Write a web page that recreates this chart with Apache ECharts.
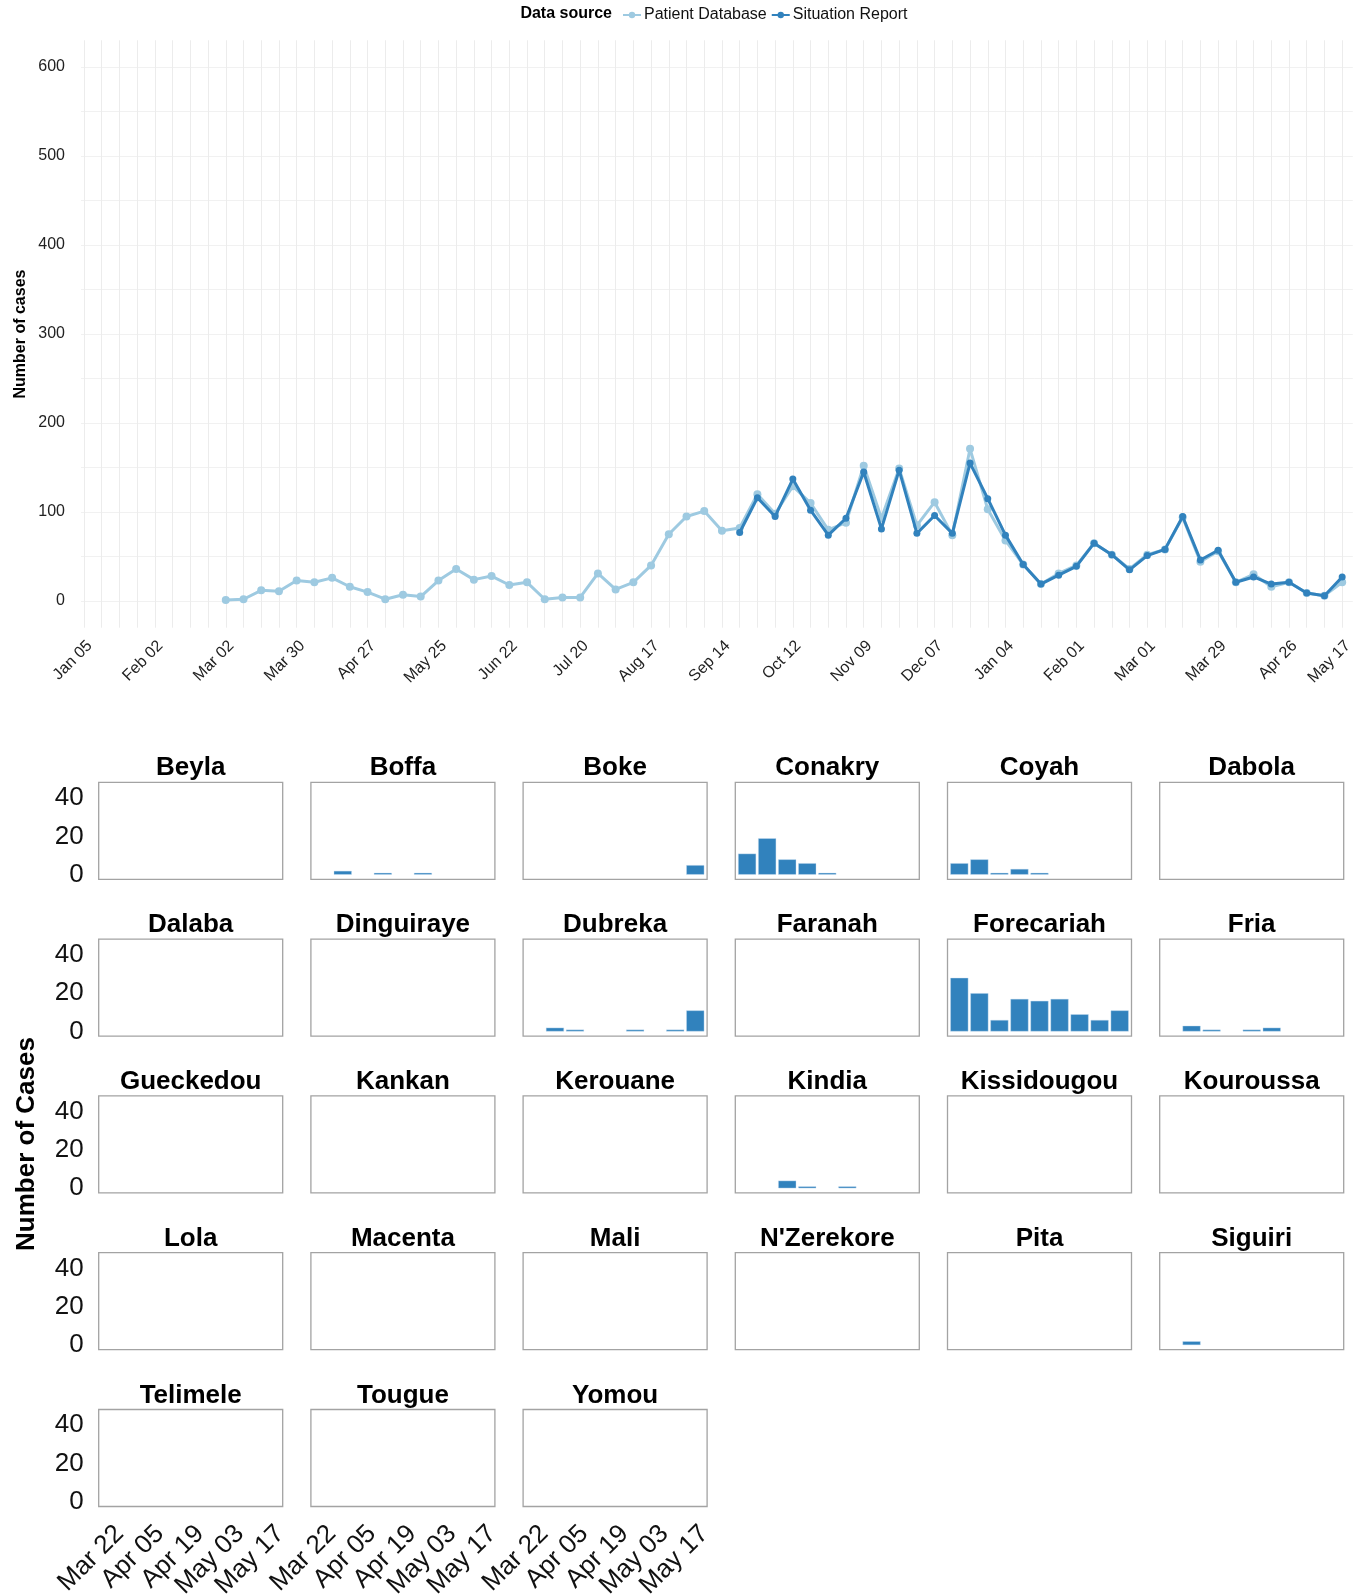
<!DOCTYPE html>
<html>
<head>
<meta charset="utf-8">
<script src="https://cdn.jsdelivr.net/npm/echarts@6/dist/echarts.min.js"></script>
<style>
  html, body { margin: 0; padding: 0; background: #ffffff; }
  #chart { width: 1362px; height: 1595px; }
</style>
</head>
<body>
<div id="chart"></div>
<script>
// ---- Weekly national case counts (weeks counted from 2014-01-05) ----
const topTickWeeks  = [0, 4, 8, 12, 16, 20, 24, 28, 32, 36, 40, 44, 48, 52, 56, 60, 64, 68, 71];
const topTickLabels = ['Jan 05', 'Feb 02', 'Mar 02', 'Mar 30', 'Apr 27', 'May 25', 'Jun 22', 'Jul 20',
                       'Aug 17', 'Sep 14', 'Oct 12', 'Nov 09', 'Dec 07', 'Jan 04', 'Feb 01', 'Mar 01',
                       'Mar 29', 'Apr 26', 'May 17'];
const lastWeek = 71;

const patientStartWeek = 8;   // Mar 02 2014
const patientDatabase = [
  1, 2, 12, 11, 23, 21, 26, 16, 10, 2, 7, 5, 23, 36, 24, 28, 18, 21, 2, 4, 4, 31, 13, 21,
  40, 75, 95, 101, 79, 82, 120, 98, 129, 110, 80, 88, 152, 93, 149, 85, 111, 74, 171, 103,
  68, 41, 19, 31, 40, 65, 52, 36, 52, 58, 94, 44, 56, 21, 30, 16, 21, 9, 6, 21
];

const sitrepStartWeek = 37;   // Sep 21 2014
const situationReport = [
  77, 116, 95, 137, 102, 74, 93, 145, 81, 147, 76, 96, 76, 155, 115, 74, 41, 19, 29, 39,
  65, 52, 35, 51, 58, 95, 46, 57, 21, 27, 19, 21, 9, 6, 27
];

const topYTicks  = [0, 50, 100, 150, 200, 250, 300, 350, 400, 450, 500, 550, 600];
const topYLabels = [0, 100, 200, 300, 400, 500, 600];

// ---- Weekly cases by prefecture, Mar 22 – May 17 2015 ----
const facetWeeks = ['Mar 22', 'Mar 29', 'Apr 05', 'Apr 12', 'Apr 19', 'Apr 26', 'May 03', 'May 10', 'May 17'];
const facetYLabels = [0, 20, 40];

const districts = ['Beyla', 'Boffa', 'Boke', 'Conakry', 'Coyah', 'Dabola',
                   'Dalaba', 'Dinguiraye', 'Dubreka', 'Faranah', 'Forecariah', 'Fria',
                   'Gueckedou', 'Kankan', 'Kerouane', 'Kindia', 'Kissidougou', 'Kouroussa',
                   'Lola', 'Macenta', 'Mali', "N'Zerekore", 'Pita', 'Siguiri',
                   'Telimele', 'Tougue', 'Yomou'];

const beyla       = [0, 0, 0, 0, 0, 0, 0, 0, 0];
const boffa       = [0, 2, 0, 1, 0, 1, 0, 0, 0];
const boke        = [0, 0, 0, 0, 0, 0, 0, 0, 5];
const conakry     = [11, 19, 8, 6, 1, 0, 0, 0, 0];
const coyah       = [6, 8, 1, 3, 1, 0, 0, 0, 0];
const dabola      = [0, 0, 0, 0, 0, 0, 0, 0, 0];
const dalaba      = [0, 0, 0, 0, 0, 0, 0, 0, 0];
const dinguiraye  = [0, 0, 0, 0, 0, 0, 0, 0, 0];
const dubreka     = [0, 2, 1, 0, 0, 1, 0, 1, 11];
const faranah     = [0, 0, 0, 0, 0, 0, 0, 0, 0];
const forecariah  = [28, 20, 6, 17, 16, 17, 9, 6, 11];
const fria        = [0, 3, 1, 0, 1, 2, 0, 0, 0];
const gueckedou   = [0, 0, 0, 0, 0, 0, 0, 0, 0];
const kankan      = [0, 0, 0, 0, 0, 0, 0, 0, 0];
const kerouane    = [0, 0, 0, 0, 0, 0, 0, 0, 0];
const kindia      = [0, 0, 4, 1, 0, 1, 0, 0, 0];
const kissidougou = [0, 0, 0, 0, 0, 0, 0, 0, 0];
const kouroussa   = [0, 0, 0, 0, 0, 0, 0, 0, 0];
const lola        = [0, 0, 0, 0, 0, 0, 0, 0, 0];
const macenta     = [0, 0, 0, 0, 0, 0, 0, 0, 0];
const mali        = [0, 0, 0, 0, 0, 0, 0, 0, 0];
const nzerekore   = [0, 0, 0, 0, 0, 0, 0, 0, 0];
const pita        = [0, 0, 0, 0, 0, 0, 0, 0, 0];
const siguiri     = [0, 2, 0, 0, 0, 0, 0, 0, 0];
const telimele    = [0, 0, 0, 0, 0, 0, 0, 0, 0];
const tougue      = [0, 0, 0, 0, 0, 0, 0, 0, 0];
const yomou       = [0, 0, 0, 0, 0, 0, 0, 0, 0];

const districtCases = [beyla, boffa, boke, conakry, coyah, dabola, dalaba, dinguiraye, dubreka,
  faranah, forecariah, fria, gueckedou, kankan, kerouane, kindia, kissidougou, kouroussa,
  lola, macenta, mali, nzerekore, pita, siguiri, telimele, tougue, yomou];

// ---- Layout & style ----
const FONT = "'Liberation Sans', Arial, Helvetica, sans-serif";
const LIGHT = '#9ecae1';
const DARK = '#3182bd';

const mainPanel = { left: 81, width: 1271.8, top: 40.3, height: 587.4 };

const COL_LEFT0 = 98.7, COL_PITCH = 212.2, PANEL_W = 184;
const ROW_TOP0 = 782.3, ROW_PITCH = 156.8, PANEL_H = 97;
const INSET = 1.8;

const grids = [{
  left: mainPanel.left, top: mainPanel.top, width: mainPanel.width, height: mainPanel.height,
  outerBoundsMode: 'none'
}];
const xAxes = [{
  gridIndex: 0, type: 'value', min: -0.17, max: 71.6,
  axisLine: { show: false },
  axisTick: { show: false, customValues: Array.from({ length: lastWeek + 1 }, (_, i) => i) },
  splitLine: { show: true, lineStyle: { color: '#ececec', width: 1 } },
  axisLabel: {
    customValues: topTickWeeks,
    formatter: v => topTickLabels[topTickWeeks.indexOf(v)] || '',
    rotate: 45, align: 'right', verticalAlign: 'top', margin: 10,
    fontSize: 16, color: '#222', fontFamily: FONT
  }
}];
const yAxes = [{
  gridIndex: 0, type: 'value', min: -30, max: 630,
  axisLine: { show: false },
  axisTick: { show: false, customValues: topYTicks },
  splitLine: { show: true, lineStyle: { color: '#f1f1f1', width: 1 } },
  axisLabel: { customValues: topYLabels, fontSize: 16, color: '#222', fontFamily: FONT, margin: 16,
               padding: [3, 0, 0, 0] }
}];

const series = [
  {
    name: 'Patient Database', type: 'line', xAxisIndex: 0, yAxisIndex: 0,
    data: patientDatabase.map((v, i) => [patientStartWeek + i, v]),
    symbol: 'circle', symbolSize: 8, z: 2,
    lineStyle: { color: LIGHT, width: 3 }, itemStyle: { color: LIGHT }
  },
  {
    name: 'Situation Report', type: 'line', xAxisIndex: 0, yAxisIndex: 0,
    data: situationReport.map((v, i) => [sitrepStartWeek + i, v]),
    symbol: 'circle', symbolSize: 7, z: 3,
    lineStyle: { color: DARK, width: 3 }, itemStyle: { color: DARK }
  }
];

const graphics = [
  { type: 'text', x: 612, y: 14, z: 10,
    style: { text: 'Data source', font: 'bold 16px ' + FONT, fill: '#000', align: 'right', verticalAlign: 'middle' } },
  { type: 'text', x: 21, y: 334, rotation: Math.PI / 2, z: 10,
    style: { text: 'Number of cases', font: 'bold 16px ' + FONT, fill: '#000', align: 'center', verticalAlign: 'middle' } },
  { type: 'text', x: 27, y: 1144, rotation: Math.PI / 2, z: 10,
    style: { text: 'Number of Cases', font: 'bold 26px ' + FONT, fill: '#000', align: 'center', verticalAlign: 'middle' } }
];

districts.forEach((name, k) => {
  const r = Math.floor(k / 6), c = k % 6;
  const left = COL_LEFT0 + c * COL_PITCH;
  const y0 = ROW_TOP0 + r * ROW_PITCH;
  const gi = k + 1;
  grids.push({
    left: left + INSET, top: y0, width: PANEL_W - 2 * INSET, height: PANEL_H,
    outerBoundsMode: 'none'
  });
  xAxes.push({
    gridIndex: gi, type: 'category', data: facetWeeks, boundaryGap: true,
    axisLine: { show: false }, axisTick: { show: false }, splitLine: { show: false },
    axisLabel: {
      show: r === 4, interval: 1, rotate: 45, align: 'right', verticalAlign: 'top', margin: 14,
      fontSize: 26, color: '#111', fontFamily: FONT
    }
  });
  yAxes.push({
    gridIndex: gi, type: 'value', min: -2.4, max: 48.2,
    axisLine: { show: false }, axisTick: { show: false }, splitLine: { show: false },
    axisLabel: {
      show: c === 0, customValues: facetYLabels, margin: 15 + INSET,
      fontSize: 26, color: '#111', fontFamily: FONT, padding: [4, 0, 0, 0]
    }
  });
  series.push({
    name: name, type: 'bar', xAxisIndex: gi, yAxisIndex: gi,
    data: districtCases[k].map(v => (v > 0 ? v : '-')),
    barCategoryGap: '10%',
    itemStyle: { color: DARK, borderColor: 'rgba(198,219,239,0.8)', borderWidth: 0.5 }
  });
  graphics.push({
    type: 'rect', z: 20, silent: true,
    shape: { x: left, y: y0, width: PANEL_W, height: PANEL_H },
    style: { fill: 'none', stroke: '#a3a3a3', lineWidth: 1.3 }
  });
  graphics.push({
    type: 'text', x: left + PANEL_W / 2, y: y0 - 14, z: 10,
    style: { text: name, font: 'bold 26px ' + FONT, fill: '#000', align: 'center', verticalAlign: 'middle' }
  });
});

const chart = echarts.init(document.getElementById('chart'), null, { renderer: 'canvas' });
chart.setOption({
  animation: false,
  backgroundColor: '#ffffff',
  textStyle: { fontFamily: FONT },
  legend: {
    data: ['Patient Database', 'Situation Report'],
    left: 617, top: 2, itemWidth: 18, itemHeight: 8, itemGap: 4, selectedMode: false,
    textStyle: { fontSize: 16, color: '#111', fontFamily: FONT, padding: [0, 0, 0, -2] }
  },
  grid: grids,
  xAxis: xAxes,
  yAxis: yAxes,
  series: series,
  graphic: graphics
});
</script>
</body>
</html>
